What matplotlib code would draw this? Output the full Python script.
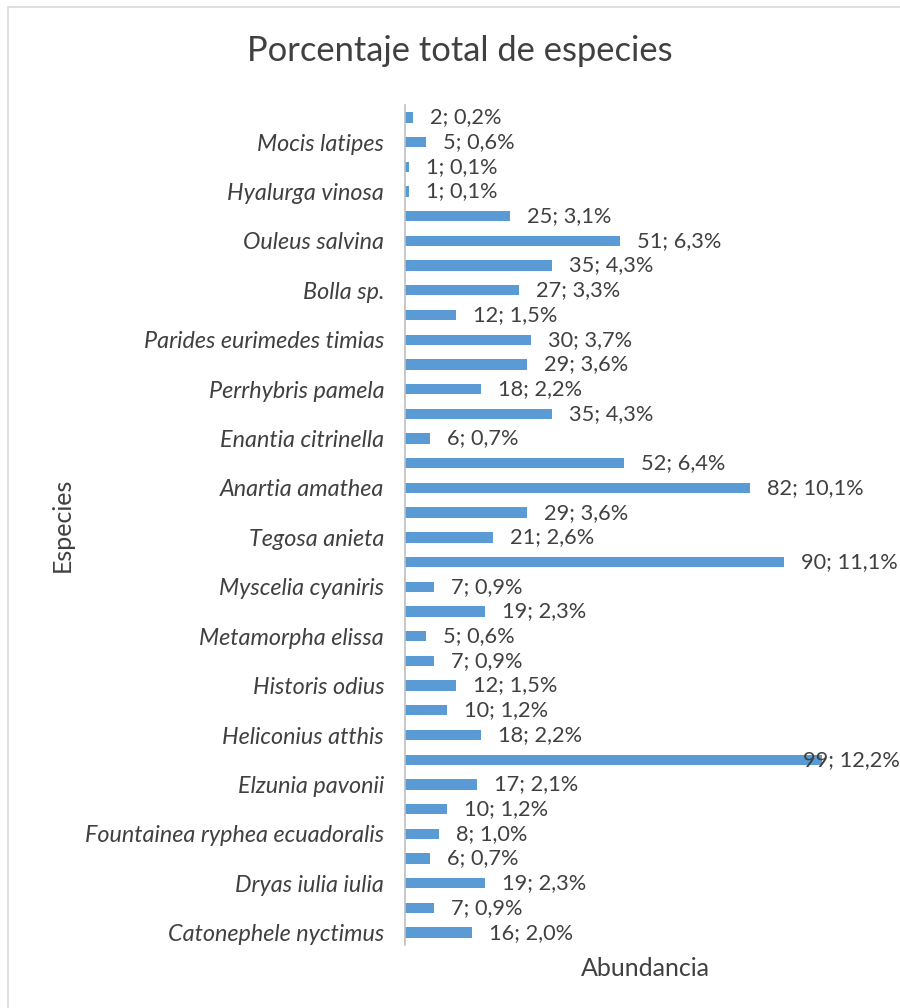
import matplotlib
matplotlib.use("Agg")
import matplotlib.pyplot as plt
from matplotlib.patches import Rectangle

# Data (bottom to top)
values = [16, 7, 19, 6, 8, 10, 17, 99, 18, 10, 12, 7, 5, 19, 7, 90, 21, 29,
          82, 52, 6, 35, 18, 29, 30, 12, 27, 35, 51, 25, 1, 1, 5, 2]
names = ["Catonephele nyctimus", "", "Dryas iulia iulia", "",
         "Fountainea ryphea ecuadoralis", "", "Elzunia pavonii", "",
         "Heliconius atthis", "", "Historis odius", "", "Metamorpha elissa", "",
         "Myscelia cyaniris", "", "Tegosa anieta", "", "Anartia amathea", "",
         "Enantia citrinella", "", "Perrhybris pamela", "", "Parides eurimedes timias", "",
         "Bolla sp.", "", "Ouleus salvina", "", "Hyalurga vinosa", "",
         "Mocis latipes", ""]

total = sum(values)
labels = [f"{v}; {100*v/total:.1f}%".replace(".", ",") for v in values]

W, H = 900, 1008
fig = plt.figure(figsize=(W/100, H/100), dpi=100)
fig.patch.set_facecolor("white")
fam = ["Lato", "DejaVu Sans"]
tc = "#404040"

# chart border (only left and top visible)
fig.patches.append(Rectangle((8/W, -1), 3, 2 - 7/H, transform=fig.transFigure,
                             fill=False, edgecolor="#D9D9D9", linewidth=1.2))

ax = fig.add_axes([405/W, 1 - 945/H, 495/W, 840/H])
y = list(range(len(values)))
ax.barh(y, values, height=0.42, color="#5B9BD5")
xmax = 495/4.21
ax.set_xlim(0, xmax)
ax.set_ylim(-0.5, len(values) - 0.5)
ax.set_yticks(y)
ax.set_yticklabels(names, fontsize=16.8, style="italic", color=tc, family=fam)
ax.tick_params(axis="y", length=0, pad=15)
ax.set_xticks([])
for s in ["top", "right", "bottom"]:
    ax.spines[s].set_visible(False)
ax.spines["left"].set_color("#BFBFBF")
ax.spines["left"].set_linewidth(1.2)

texts = []
for yi, v, lab in zip(y, values, labels):
    t = ax.text(v + 17/4.21, yi, lab, va="center", ha="left", fontsize=15.7,
                color=tc, family=fam)
    texts.append(t)

fig.canvas.draw()
r = fig.canvas.get_renderer()
axbox = ax.get_window_extent(r)
for t in texts:
    bb = t.get_window_extent(r)
    if bb.x1 > axbox.x1:
        x0 = ax.transData.inverted().transform((axbox.x1 - bb.width, 0))[0]
        t.set_x(x0)

fig.text(460/W, 1 - 51/H, "Porcentaje total de especies", ha="center", va="center",
         fontsize=24.8, color=tc, family=fam)
fig.text(62/W, 1 - 525/H, "Especies", rotation=90, ha="center", va="center",
         fontsize=18, color=tc, family=fam)
fig.text(645/W, 1 - 968/H, "Abundancia", ha="center", va="center",
         fontsize=18, color=tc, family=fam)

fig.savefig("out.png", dpi=100)
